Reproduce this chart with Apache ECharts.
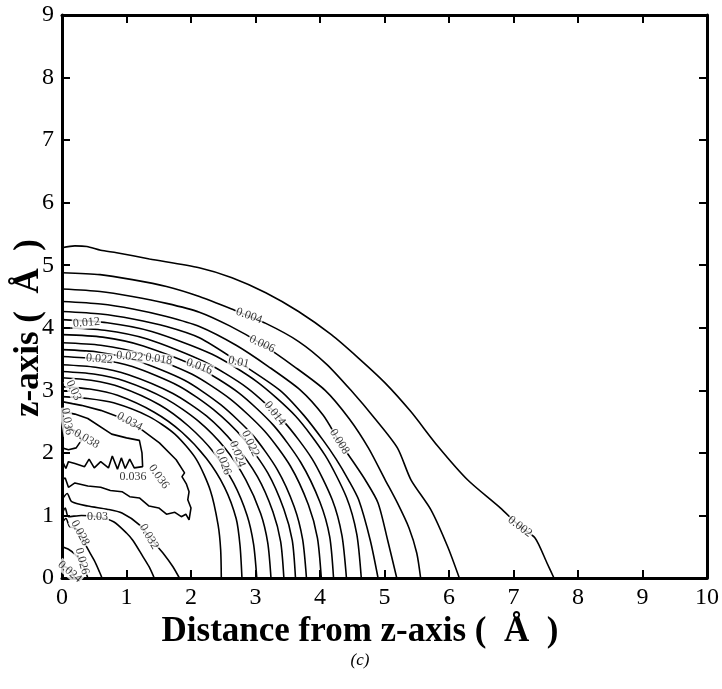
<!DOCTYPE html>
<html><head><meta charset="utf-8">
<script src="https://cdn.jsdelivr.net/npm/echarts@6/dist/echarts.min.js"></script>
<style>html,body{margin:0;padding:0;background:#fff}#chart{width:722px;height:689px}</style>
</head><body><div id="chart"></div>
<script>
// Axis tick labels
const xTickLabels = ['0','1','2','3','4','5','6','7','8','9','10'];
const yTickLabels = ['0','1','2','3','4','5','6','7','8','9'];

// Contour lines (x = distance from z-axis, y = z)
const c002 = [[0,5.28],[0.2,5.31],[0.385,5.3],[0.6,5.24],[0.847,5.2],[1.356,5.1],[2.126,4.96],[2.635,4.8],[3.159,4.56],[3.667,4.26],[4.176,3.89],[4.592,3.52],[5.008,3.12],[5.408,2.66],[5.824,2.11],[6.287,1.57],[6.795,1.12],[7.103,0.82],[7.334,0.64],[7.519,0.24],[7.627,0]];
const c004 = [[0,4.88],[0.59,4.85],[1.09,4.77],[1.62,4.66],[2.13,4.5],[2.63,4.3],[3.16,4.07],[3.67,3.78],[4.1,3.42],[4.48,3.0],[4.85,2.55],[5.2,2.08],[5.41,1.57],[5.72,1.09],[5.98,0.5],[6.16,0]];
const c006 = [[0,4.62],[0.59,4.58],[1.09,4.5],[1.62,4.39],[2.13,4.25],[2.6,4.03],[3.08,3.75],[3.6,3.38],[4.08,3.0],[4.45,2.55],[4.75,2.08],[5.01,1.57],[5.2,1.2],[5.38,0.8],[5.5,0.4],[5.56,0]];
const c008 = [[0,4.42],[0.6,4.38],[1.1,4.3],[1.62,4.18],[2.13,4.02],[2.7,3.72],[3.2,3.38],[3.7,3.0],[4.05,2.6],[4.3,2.18],[4.52,1.85],[4.7,1.57],[4.9,1.2],[5.05,0.6],[5.19,0]];
const c010 = [[0,4.26],[0.6,4.22],[1.1,4.14],[1.62,4.02],[2.13,3.84],[2.74,3.45],[3.38,3.0],[3.75,2.6],[4.05,2.2],[4.25,1.9],[4.44,1.57],[4.6,1.25],[4.78,0.6],[4.9,0]];
const c012 = [[0,4.13],[0.7,4.08],[1.39,3.94],[2.32,3.58],[3.02,3.14],[3.62,2.59],[4.08,1.96],[4.41,1.29],[4.57,0.7],[4.64,0]];
const c014 = [[0,4.0],[0.66,3.96],[1.32,3.82],[2.2,3.46],[2.87,3.04],[3.44,2.5],[3.88,1.9],[4.19,1.25],[4.34,0.68],[4.41,0]];
const c016 = [[0,3.89],[0.63,3.85],[1.26,3.71],[2.1,3.37],[2.74,2.96],[3.28,2.44],[3.7,1.85],[4.0,1.21],[4.15,0.66],[4.21,0]];
const c018 = [[0,3.76],[0.6,3.72],[1.21,3.59],[2.01,3.26],[2.61,2.86],[3.14,2.35],[3.54,1.79],[3.82,1.17],[3.96,0.64],[4.02,0]];
const c020 = [[0,3.65],[0.57,3.61],[1.14,3.48],[1.9,3.16],[2.46,2.77],[2.96,2.28],[3.34,1.73],[3.6,1.14],[3.73,0.62],[3.79,0]];
const c022 = [[0,3.54],[0.54,3.5],[1.09,3.38],[1.81,3.07],[2.35,2.69],[2.82,2.22],[3.19,1.68],[3.44,1.1],[3.57,0.6],[3.62,0]];
const c024 = [[0,3.41],[0.52,3.37],[1.03,3.25],[1.72,2.95],[2.24,2.59],[2.68,2.13],[3.03,1.62],[3.27,1.06],[3.39,0.58],[3.44,0]];
const c026 = [[0,3.30],[0.49,3.26],[0.97,3.15],[1.62,2.86],[2.11,2.51],[2.53,2.07],[2.85,1.57],[3.08,1.03],[3.19,0.56],[3.24,0]];
const c028 = [[0,3.20],[0.45,3.16],[0.91,3.05],[1.51,2.77],[1.96,2.43],[2.36,2.0],[2.66,1.52],[2.87,1.0],[2.97,0.54],[3.02,0]];
const c030 = [[0,3.06],[0.43,3.02],[0.86,2.92],[1.43,2.65],[1.86,2.33],[2.24,1.91],[2.52,1.45],[2.7,0.95],[2.76,0.52],[2.79,0]];
const c032 = [[0,2.90],[0.4,2.87],[0.8,2.8],[1.35,2.58],[1.75,2.3],[2.08,1.9],[2.3,1.4],[2.42,0.85],[2.46,0.45],[2.47,0]];
const c034 = [[0,2.82],[0.3,2.76],[0.6,2.68],[0.86,2.58],[1.25,2.36],[1.51,2.16],[1.77,1.89],[1.9,1.68],[1.86,1.62],[1.93,1.5],[1.97,1.38],[1.95,1.25],[2.0,1.12],[1.97,0.93],[1.92,1.02],[1.85,0.98],[1.75,1.05],[1.62,1.02],[1.5,1.12],[1.35,1.15],[1.2,1.28],[1.05,1.3],[0.93,1.38],[0.75,1.4],[0.6,1.45],[0.4,1.47],[0.2,1.52],[0.1,1.45],[0.05,1.6],[0,1.57]];
const c036 = [[0,2.66],[0.2,2.62],[0.4,2.55],[0.77,2.3],[1.0,2.24],[1.2,2.2],[1.24,2.0],[1.25,1.78],[1.12,1.76],[1.05,1.9],[0.98,1.75],[0.92,1.92],[0.86,1.74],[0.78,1.95],[0.72,1.76],[0.6,1.86],[0.5,1.76],[0.42,1.9],[0.35,1.78],[0.2,1.83],[0.1,1.86],[0.06,1.75],[0,1.88]];
const c038 = [[0,2.42],[0.12,2.4],[0.25,2.32],[0.3,2.2],[0.22,2.08],[0.1,2.05],[0,2.08]];
const c032in = [[0,1.25],[0.08,1.35],[0.15,1.22],[0.4,1.15],[0.7,1.1],[0.93,1.04],[1.2,0.85],[1.4,0.6],[1.58,0.38],[1.72,0.18],[1.82,0]];
const c030in = [[0,1.02],[0.05,1.12],[0.1,0.98],[0.3,1.0],[0.55,0.98],[0.8,0.9],[1.0,0.72],[1.1,0.6],[1.25,0.35],[1.35,0.18],[1.43,0]];
const c028in = [[0,0.88],[0.06,0.95],[0.12,0.82],[0.2,0.8],[0.28,0.72],[0.38,0.5],[0.5,0.28],[0.58,0.1],[0.62,0]];
const c026in = [[0,0.5],[0.1,0.46],[0.2,0.38],[0.3,0.26],[0.36,0.12],[0.4,0]];
const c024in = [[0,0.2],[0.1,0.15],[0.17,0.07],[0.2,0]];

const smoothArcs = [c002,c004,c006,c008,c010,c012,c014,c016,c018,c020,c022,c024,c026,c028,c030,c032,c032in,c030in,c028in,c026in,c024in];
const jaggedLines = [c034,c036,c038];

// Contour labels
const labelText = ['0.002','0.004','0.006','0.01','0.008','0.014','0.012','0.022','0.022','0.018','0.016','0.03','0.034','0.036','0.038','0.036','0.036','0.03','0.032','0.028','0.026','0.024','0.026','0.024','0.022'];
const labelX =    [7.1, 2.9, 3.1, 2.74, 4.3, 3.3, 0.38, 0.58, 1.05, 1.5, 2.13, 0.18, 1.05, 0.08, 0.38, 1.1, 1.5, 0.55, 1.35, 0.28, 0.31, 0.12, 2.5, 2.72, 2.92];
const labelY =    [0.82, 4.19, 3.74, 3.45, 2.18, 2.63, 4.08, 3.5, 3.54, 3.5, 3.38, 3.0, 2.5, 2.5, 2.22, 1.62, 1.62, 0.97, 0.66, 0.72, 0.27, 0.1, 1.86, 1.98, 2.15];
const labelRot =  [-37, -20, -25, -12, -58, -52, 5, -5, -5, -8, -20, -65, -28, -80, -30, 0, -55, 0, -60, -62, -75, -40, -70, -70, -65];

const serif = "'Liberation Serif','DejaVu Serif',serif";
const lineStyle = {color:'#000', width:1.6};

const series = [];
smoothArcs.forEach(d => series.push({type:'line', data:d, showSymbol:false, smooth:0.25, lineStyle, silent:true, z:2}));
jaggedLines.forEach(d => series.push({type:'line', data:d, showSymbol:false, smooth:false, lineStyle, silent:true, z:2}));
series.push({
  type:'scatter', symbolSize:0, silent:true, z:5,
  data: labelText.map((t,i)=>({value:[labelX[i],labelY[i]], name:t, label:{rotate:labelRot[i]}})),
  label:{show:true, position:'inside', formatter:p=>p.name, color:'#000', fontFamily:serif, fontSize:12,
         backgroundColor:'#fff', padding:[0,1]}
});

function xAxisCfg(pos, showLabel){
  return {type:'value', min:0, max:10, interval:1, position:pos,
    axisLine:{show:true, onZero:false, lineStyle:{color:'#000', width:3}},
    axisTick:{show:true, inside:true, length:8, lineStyle:{color:'#000', width:2}},
    axisLabel:{show:showLabel, color:'#000', fontFamily:serif, fontSize:24, margin:8, formatter:v=>xTickLabels[Math.round(v)]},
    splitLine:{show:false}};
}
function yAxisCfg(pos, showLabel){
  return {type:'value', min:0, max:9, interval:1, position:pos,
    axisLine:{show:true, onZero:false, lineStyle:{color:'#000', width:3}},
    axisTick:{show:true, inside:true, length:8, lineStyle:{color:'#000', width:2}},
    axisLabel:{show:showLabel, color:'#000', fontFamily:serif, fontSize:24, margin:8, formatter:v=>yTickLabels[Math.round(v)]},
    splitLine:{show:false}};
}

const chart = echarts.init(document.getElementById('chart'));
chart.setOption({
  animation:false,
  backgroundColor:'#fff',
  grid:{left:62, right:11, top:15, bottom:111},
  xAxis:[xAxisCfg('bottom',true), xAxisCfg('top',false)],
  yAxis:[yAxisCfg('left',true), yAxisCfg('right',false)],
  series,
  graphic:[
    {type:'text', x:360, y:632, style:{text:'Distance from z-axis (  Å  )', font:"bold 35px 'Liberation Serif'", fill:'#000', textAlign:'center', textVerticalAlign:'middle'}},
    {type:'text', x:29, y:328, rotation:Math.PI/2, style:{text:'z-axis (  Å  )', font:"bold 35px 'Liberation Serif'", fill:'#000', textAlign:'center', textVerticalAlign:'middle'}},
    {type:'text', x:360, y:661, style:{text:'(c)', font:"italic 17px 'Liberation Serif'", fill:'#000', textAlign:'center', textVerticalAlign:'middle'}}
  ]
});
</script>
</body></html>
